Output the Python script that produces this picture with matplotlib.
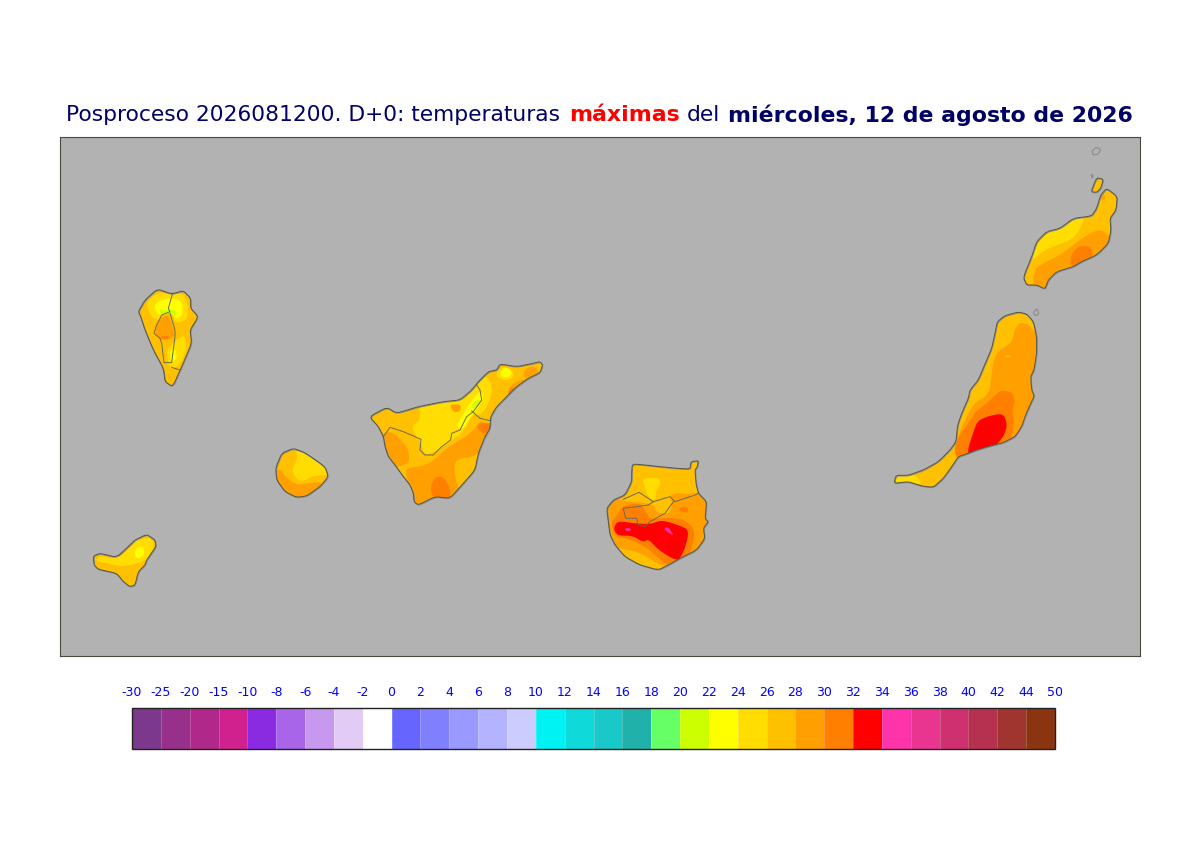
#!/usr/bin/env python3
import matplotlib
matplotlib.use("Agg")
import matplotlib.pyplot as plt
import numpy as np
from matplotlib.cm import ScalarMappable
from matplotlib.colors import BoundaryNorm, ListedColormap
from matplotlib.patches import Polygon

SEA = "#b2b2b2"
NAVY = "#000066"

LEVELS = [-30, -25, -20, -15, -10, -8, -6, -4, -2, 0, 2, 4, 6, 8, 10, 12, 14, 16,
          18, 20, 22, 24, 26, 28, 30, 32, 34, 36, 38, 40, 42, 44, 50]
COLORS = ["#7b388c", "#96308a", "#b0288a", "#d0218e", "#8a2be2", "#a865ea", "#c799ee", "#e2ccf6",
          "#ffffff", "#6666ff", "#8080ff", "#9999ff", "#b3b3ff", "#ccccff", "#00f2f2", "#0fd9d9",
          "#19c8c8", "#20b2aa", "#66ff66", "#ccff00", "#ffff00", "#ffdd00", "#ffc000", "#ffa000",
          "#ff8000", "#ff0000", "#ff33aa", "#e93590", "#cf3070", "#b63050", "#a03530", "#8b3510"]

# outlines and temperature bands, traced in crop coordinates (1/3 px) from each crop origin
LANZAROTE_COAST = [(430, 412), (455, 350), (470, 305), (500, 275), (540, 265), (580, 235), (635, 228), (650, 205),
                   (662, 165), (680, 145), (712, 170), (708, 210), (690, 235), (693, 270), (685, 310), (650, 345),
                   (605, 365), (580, 380), (530, 395), (505, 420), (495, 447), (470, 435), (440, 435)]
LANZAROTE_BANDS = [
    (24, [(450, 355), (465, 295), (500, 265), (540, 255), (580, 225), (615, 228), (603, 262), (578, 298), (530, 315), (490, 333), (458, 360)]),
    (28, [(458, 425), (465, 385), (490, 370), (540, 345), (580, 315), (620, 285), (660, 268), (682, 283), (705, 310), (650, 365), (600, 385), (570, 400), (530, 410), (505, 435), (495, 460), (470, 455)]),
    (30, [(570, 380), (573, 345), (593, 320), (627, 317), (640, 335), (632, 355), (600, 372)]),
    (28, [(658, 170), (670, 160), (677, 175), (665, 182)]),
]
GRACIOSA_COAST = [(633, 155), (650, 113), (670, 118), (662, 145), (650, 157)]
FUERTE_COAST = [(42, 1030), (48, 1006), (85, 1006), (130, 990), (175, 965), (210, 930), (228, 905), (233, 855),
                (245, 820), (265, 775), (270, 750), (295, 720), (320, 660), (335, 625), (345, 580), (352, 545),
                (375, 527), (415, 516), (440, 522), (460, 545), (470, 590), (470, 640), (462, 690), (452, 710),
                (455, 750), (463, 768), (450, 795), (435, 830), (425, 860), (405, 890), (370, 908), (330, 918),
                (290, 930), (265, 940), (235, 950), (215, 980), (190, 1015), (160, 1042), (125, 1038), (85, 1025)]
FUERTE_BANDS = [
    (24, [(35, 1035), (45, 1000), (85, 1000), (112, 1010), (127, 1032), (85, 1032)]),
    (28, [(403, 572), (420, 546), (445, 553), (478, 590), (488, 640), (478, 690), (468, 750), (478, 770), (453, 830), (438, 870), (408, 908), (330, 933), (265, 955), (235, 965), (220, 930), (238, 878), (256, 838), (283, 788), (328, 763), (336, 688), (348, 638), (393, 608), (400, 590)]),
    (30, [(222, 932), (238, 885), (260, 858), (288, 813), (323, 788), (343, 768), (363, 751), (397, 756), (405, 785), (397, 815), (402, 855), (392, 908), (330, 933), (265, 953), (235, 963)]),
    (32, [(262, 932), (283, 868), (293, 843), (325, 828), (370, 820), (382, 855), (372, 887), (347, 918), (300, 933), (270, 948)]),
    (26, [(375, 646), (392, 646), (392, 652), (375, 652)]),
]
ISLETS = [[(636, 33), (648, 22), (662, 28), (655, 42), (640, 45)],
          [(633, 103), (640, 106), (636, 115)],
          [(460, 518), (472, 505), (476, 524), (466, 527)]]

TENERIFE_COAST = [(28, 200), (80, 172), (110, 190), (175, 170), (250, 155), (300, 150), (335, 120), (355, 95),
                  (385, 65), (410, 60), (420, 42), (470, 50), (520, 40), (540, 35), (548, 45), (540, 68),
                  (505, 85), (470, 110), (445, 135), (410, 170), (392, 200), (390, 235), (375, 260), (355, 310),
                  (345, 360), (310, 400), (270, 445), (225, 440), (175, 465), (162, 455), (160, 430), (150, 405),
                  (130, 380), (105, 345), (85, 320), (75, 290), (70, 260), (55, 230)]
TENERIFE_BANDS = [
    (24, [(175, 160), (250, 145), (300, 140), (335, 110), (350, 100), (372, 130), (357, 165), (337, 197), (312, 242), (282, 267), (247, 292), (195, 318), (183, 280), (152, 232), (183, 208)]),
    (24, [(355, 90), (387, 78), (397, 120), (387, 160), (362, 197), (335, 192)]),
    (22, [(288, 232), (308, 193), (338, 148), (360, 122), (372, 140), (352, 177), (327, 207), (310, 238)]),
    (20, [(333, 167), (355, 146), (362, 155), (340, 178)]),
    (24, [(413, 65), (435, 48), (462, 65), (457, 87), (430, 90), (408, 80)]),
    (22, [(418, 68), (438, 50), (457, 68), (447, 82), (425, 80)]),
    (28, [(438, 140), (453, 103), (490, 88), (512, 85), (470, 122)]),
    (30, [(445, 125), (455, 110), (464, 118), (450, 132)]),
    (28, [(498, 55), (520, 48), (540, 65), (505, 88), (488, 80)]),
    (28, [(65, 255), (90, 243), (117, 263), (147, 300), (147, 342), (105, 352), (75, 330), (60, 280)]),
    (28, [(133, 355), (190, 348), (218, 333), (268, 288), (318, 260), (348, 233), (358, 213), (400, 225), (385, 265), (352, 318), (285, 328), (283, 370), (298, 425), (270, 460), (225, 455), (175, 480), (145, 445), (143, 395)]),
    (30, [(213, 402), (230, 378), (252, 383), (270, 415), (272, 450), (225, 450), (213, 427)]),
    (30, [(348, 230), (365, 218), (395, 220), (387, 242), (370, 252)]),
    (28, [(268, 163), (302, 163), (302, 184), (280, 187)]),
]
TENERIFE_BORDERS = [[(70, 260), (90, 232), (130, 245), (183, 268), (180, 300), (195, 315), (220, 315), (245, 290),
                     (272, 270), (275, 250), (300, 240), (320, 200), (340, 185), (365, 150), (360, 120), (350, 105)],
                    [(335, 183), (360, 205), (390, 212)]]

CANARIA_COAST = [(127, 42), (165, 45), (210, 50), (260, 55), (300, 57), (303, 35), (325, 32), (322, 50), (315, 60),
                 (318, 100), (325, 130), (350, 155), (345, 205), (355, 215), (340, 235), (345, 265), (320, 300),
                 (270, 325), (235, 345), (205, 360), (150, 345), (105, 320), (75, 285), (60, 255), (55, 215),
                 (50, 175), (70, 150), (105, 135), (125, 95), (125, 70)]
CANARIA_BANDS = [
    (24, [(158, 85), (207, 83), (212, 100), (197, 125), (197, 152), (175, 142), (163, 110)]),
    (28, [(40, 175), (70, 143), (100, 153), (150, 158), (190, 163), (200, 188), (238, 193), (248, 160), (238, 138), (260, 128), (290, 133), (320, 128), (365, 155), (360, 205), (370, 215), (355, 235), (360, 265), (330, 310), (270, 335), (235, 355), (198, 338), (150, 308), (105, 298), (65, 290), (50, 255), (45, 215)]),
    (30, [(63, 215), (83, 193), (98, 168), (150, 158), (167, 185), (182, 208), (230, 203), (282, 208), (312, 235), (312, 270), (292, 333), (260, 338), (235, 348), (203, 322), (168, 292), (130, 272), (73, 257)]),
    (32, [(70, 235), (83, 213), (135, 220), (180, 223), (215, 210), (267, 226), (297, 240), (287, 290), (267, 332), (240, 322), (203, 297), (175, 267), (160, 277), (128, 257), (83, 257)]),
    (34, [(105, 234), (123, 235), (121, 243), (107, 243)]),
    (34, [(221, 238), (232, 229), (252, 256), (240, 251)]),
    (30, [(263, 175), (291, 168), (297, 186), (275, 187)]),
]
CANARIA_BORDERS = [[(100, 148), (147, 127), (190, 155), (240, 140), (255, 155), (315, 135), (325, 130)],
                   [(190, 155), (175, 165), (140, 170), (100, 175), (107, 205), (140, 205), (143, 222), (165, 230),
                    (180, 215), (210, 198), (225, 190), (250, 155)]]

PALMA_COAST = [(175, 95), (195, 60), (232, 27), (275, 42), (310, 32), (332, 55), (332, 85), (355, 110), (330, 150),
               (335, 190), (305, 260), (278, 320), (255, 305), (250, 265), (220, 210), (195, 150), (182, 110)]
PALMA_BANDS = [
    (24, [(198, 70), (232, 38), (272, 43), (312, 40), (324, 80), (322, 117), (300, 127), (285, 127), (275, 92), (250, 102), (240, 122), (213, 112)]),
    (22, [(223, 70), (270, 53), (307, 63), (307, 107), (290, 117), (270, 97), (245, 107), (228, 97)]),
    (20, [(238, 85), (255, 93), (270, 88), (292, 95), (286, 112), (265, 97), (245, 107)]),
    (28, [(238, 115), (265, 103), (277, 135), (287, 172), (245, 182), (223, 160)]),
    (24, [(258, 215), (280, 188), (312, 163), (322, 200), (302, 252), (270, 272)]),
    (22, [(268, 215), (285, 203), (292, 235), (275, 247)]),
    (30, [(243, 169), (267, 167), (267, 176), (246, 179)]),
]
PALMA_BORDERS = [[(278, 40), (265, 85), (270, 95), (245, 105), (230, 135), (222, 160), (240, 175), (245, 190),
                  (252, 248), (275, 248), (285, 170), (285, 150), (270, 100)],
                 [(275, 262), (300, 270)]]

GOMERA_COAST = [(587, 85), (605, 40), (640, 25), (675, 38), (735, 80), (745, 110), (720, 140), (680, 168),
                (650, 172), (615, 155), (590, 120)]
GOMERA_BANDS = [
    (24, [(638, 85), (653, 55), (648, 30), (680, 40), (740, 85), (745, 105), (700, 107), (675, 122), (655, 122), (638, 100)]),
    (28, [(580, 100), (600, 85), (620, 115), (650, 135), (680, 130), (735, 125), (680, 180), (650, 180), (610, 165), (580, 125)]),
]

HIERRO_COAST = [(40, 348), (60, 340), (110, 352), (155, 310), (165, 300), (200, 283), (225, 300), (228, 320),
                (200, 360), (195, 375), (175, 395), (165, 435), (150, 440), (130, 425), (110, 400), (55, 388), (42, 375)]
HIERRO_BANDS = [
    (24, [(48, 365), (58, 348), (110, 358), (150, 323), (170, 298), (210, 293), (224, 315), (202, 357), (170, 372), (120, 380), (85, 370)]),
    (22, [(163, 345), (168, 323), (192, 318), (192, 347), (172, 357)]),
]

TITLE_TEXTS = ["Posproceso 2026081200. D+0: temperaturas", "máximas", "del", "miércoles, 12 de agosto de 2026"]
TITLE_COLORS = [NAVY, "#ff0000", NAVY, NAVY]
TITLE_WEIGHTS = ["normal", "bold", "normal", "bold"]

cmap = ListedColormap(COLORS)
norm = BoundaryNorm(LEVELS, cmap.N)


def smooth(pts, rounds=2, cut=0.15):
    pts = np.asarray(pts, dtype=float)
    for _ in range(rounds):
        nxt = np.roll(pts, -1, axis=0)
        a = (1 - cut) * pts + cut * nxt
        b = cut * pts + (1 - cut) * nxt
        pts = np.column_stack([a, b]).reshape(-1, 2)
    return pts


def place(pts, origin):
    return np.asarray(pts, dtype=float) / 3 + origin


def draw_island(ax, coast, origin, base, bands=(), borders=()):
    shape = smooth(place(coast, origin))
    land = Polygon(shape, closed=True, facecolor=cmap(norm(base)), edgecolor="none", zorder=2)
    ax.add_patch(land)
    for value, pts in bands:
        band = Polygon(smooth(place(pts, origin), cut=0.22), closed=True, facecolor=cmap(norm(value)),
                       edgecolor="none", zorder=3)
        ax.add_patch(band)
        band.set_clip_path(land)
    for line in borders:
        xy = place(line, origin)
        ax.plot(xy[:, 0], xy[:, 1], color="#6a6a55", lw=0.7, zorder=5)
    # second, finer coast from the map base sits slightly off the model land mask
    ax.add_patch(Polygon(shape + (0.6, 0.7), closed=True, fill=False, edgecolor="#8c8c8c", lw=0.7, zorder=4))
    ax.add_patch(Polygon(shape, closed=True, fill=False, edgecolor="#555548", lw=0.7, zorder=5))


def draw_title(fig, y=115):
    # pixel starts of the four title runs
    starts = [66, 569, 687, 728]
    sizes = [15.7, 15.8, 15.7, 15.8]
    for text, color, weight, x, size in zip(TITLE_TEXTS, TITLE_COLORS, TITLE_WEIGHTS, starts, sizes):
        fig.text(x / 1200, 1 - y / 848, text, color=color, fontweight=weight,
                 fontsize=size, va="center", ha="left")


def main():
    fig = plt.figure(figsize=(12, 8.48), dpi=100)

    ax = fig.add_axes([60 / 1200, 1 - 656 / 848, 1080 / 1200, 519 / 848])
    ax.set_facecolor(SEA)
    ax.set_xlim(60, 1140)
    ax.set_ylim(656, 137)
    ax.set_xticks([])
    ax.set_yticks([])
    for spine in ax.spines.values():
        spine.set_color("#4a4a3a")
        spine.set_linewidth(0.8)

    east = (880, 140)
    draw_island(ax, LANZAROTE_COAST, east, 26, LANZAROTE_BANDS)
    draw_island(ax, GRACIOSA_COAST, east, 26)
    draw_island(ax, FUERTE_COAST, east, 26, FUERTE_BANDS)
    draw_island(ax, TENERIFE_COAST, (360, 350), 26, TENERIFE_BANDS, TENERIFE_BORDERS)
    draw_island(ax, CANARIA_COAST, (590, 450), 26, CANARIA_BANDS, CANARIA_BORDERS)
    draw_island(ax, PALMA_COAST, (80, 280), 26, PALMA_BANDS, PALMA_BORDERS)
    draw_island(ax, GOMERA_COAST, (80, 440), 26, GOMERA_BANDS)
    draw_island(ax, HIERRO_COAST, (80, 440), 26, HIERRO_BANDS)
    for islet in ISLETS:
        ax.add_patch(Polygon(smooth(place(islet, east)), closed=True, fill=False, edgecolor="#8c8c8c", lw=0.8, zorder=4))

    cax = fig.add_axes([132 / 1200, 1 - 749 / 848, 923 / 1200, 41 / 848])
    cb = fig.colorbar(ScalarMappable(norm=norm, cmap=cmap), cax=cax, orientation="horizontal",
                      spacing="uniform", ticks=LEVELS)
    cb.ax.xaxis.set_ticks_position("top")
    cb.ax.tick_params(length=0, pad=6.5, labelsize=9, labelcolor="#0000ff")
    cb.set_ticklabels([str(v) for v in LEVELS])
    cb.outline.set_edgecolor("#222222")
    cb.outline.set_linewidth(1.0)
    for v in LEVELS[1:-1]:
        cax.axvline(v, color="white", lw=0.4, alpha=0.35)

    draw_title(fig)
    fig.savefig("out.png", dpi=100)


if __name__ == "__main__":
    main()
